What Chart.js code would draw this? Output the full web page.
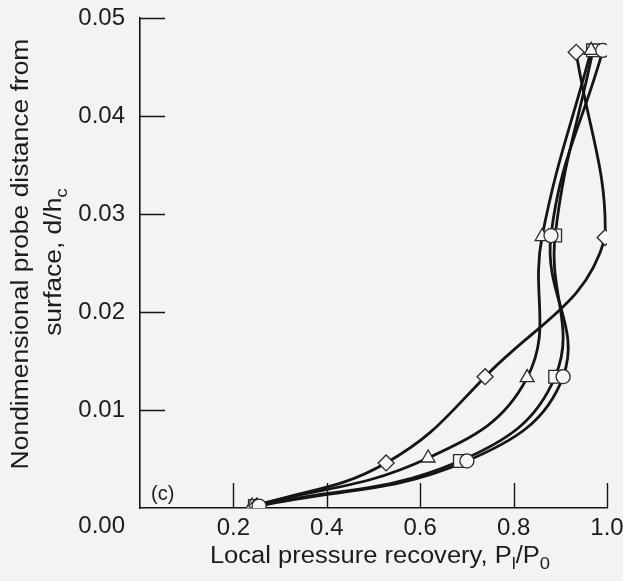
<!DOCTYPE html>
<html>
<head>
<meta charset="utf-8">
<script src="https://cdn.jsdelivr.net/npm/chart.js@4.4.1/dist/chart.umd.min.js"></script>
<style>
  html, body { margin: 0; padding: 0; background: #f3f3f1; }
  #wrap { width: 623px; height: 581px; }
</style>
</head>
<body>
<div id="wrap"><canvas id="chart" width="623" height="581"></canvas></div>
<script>
// Valores (x = P_l/P_0, y = d/h_c)
const diamondX  = [0.250, 0.527, 0.739, 0.996, 0.934];
const diamondY  = [0.0002, 0.0046, 0.0134, 0.0276, 0.0465];
const triangleX = [0.240, 0.617, 0.829, 0.861, 0.966];
const triangleY = [0.0002, 0.0051, 0.0133, 0.0277, 0.0467];
const squareX   = [0.246, 0.685, 0.889, 0.889, 0.970];
const squareY   = [0.0002, 0.0048, 0.0134, 0.0278, 0.0467];
const circleX   = [0.255, 0.700, 0.906, 0.880, 0.991];
const circleY   = [0.0002, 0.0048, 0.0134, 0.0278, 0.0467];

const xTicks = [0.2, 0.4, 0.6, 0.8, 1.0];
const yTicks = [0.01, 0.02, 0.03, 0.04, 0.05];

const INK = '#151515';
const FONT = '"Liberation Sans", Arial, sans-serif';

const toPoints = (xs, ys) => xs.map((x, i) => ({ x: x, y: ys[i] }));

// curva suave (desenhada por baixo)
const curve = data => ({
    data: data,
    order: 2,
    showLine: true,
    tension: 0.42,
    borderColor: INK,
    borderWidth: 2.8,
    pointRadius: 0
});

// marcadores (desenhados por cima de todas as curvas)
const marks = (data, style, radius) => ({
    data: data,
    order: 1,
    showLine: false,
    pointStyle: style,
    pointRadius: radius,
    pointBorderWidth: 1.3,
    pointBorderColor: '#2a2a2a',
    pointBackgroundColor: '#f6f6f4'
});

// texto com subscritos, esticado na horizontal: partes [texto, subscrito?]
function drawParts(ctx, parts, x, y, size, stretch) {
    const sub = size * 0.72;
    let total = 0;
    parts.forEach(p => {
        ctx.font = (p[1] ? sub : size) + 'px ' + FONT;
        total += ctx.measureText(p[0]).width;
    });
    ctx.save();
    ctx.translate(x, y);
    ctx.scale(stretch, 1);
    let cx = -total / 2;
    parts.forEach(p => {
        ctx.font = (p[1] ? sub : size) + 'px ' + FONT;
        ctx.fillText(p[0], cx, p[1] ? size * 0.32 : 0);
        cx += ctx.measureText(p[0]).width;
    });
    ctx.restore();
}

const decorPlugin = {
    id: 'decor',
    afterDraw(chart) {
        const ctx = chart.ctx;
        const xs = chart.scales.x, ys = chart.scales.y;
        const area = chart.chartArea;
        ctx.save();
        ctx.strokeStyle = INK;
        ctx.lineWidth = 1.4;
        // marcas para dentro
        ctx.beginPath();
        yTicks.forEach(v => {
            const py = Math.round(ys.getPixelForValue(v)) + 0.5;
            ctx.moveTo(area.left, py);
            ctx.lineTo(area.left + 25, py);
        });
        xTicks.forEach(v => {
            const px = Math.round(xs.getPixelForValue(v)) + 0.5;
            ctx.moveTo(px, area.bottom);
            ctx.lineTo(px, area.bottom - 25);
        });
        ctx.stroke();

        ctx.fillStyle = '#1c1c1c';
        ctx.textBaseline = 'middle';
        // rótulo 0.00 na linha dos rótulos de x
        ctx.textAlign = 'right';
        ctx.font = '24px ' + FONT;
        ctx.fillText('0.00', area.left - 15, area.bottom + 18);

        ctx.textAlign = 'left';
        ctx.font = '20px ' + FONT;
        ctx.fillText('(c)', area.left + 11, area.bottom - 14);

        // título do eixo x
        drawParts(ctx, [['Local pressure recovery, P', false], ['l', true], ['/P', false], ['0', true]],
            380, 557, 23, 1.11);

        // título do eixo y (duas linhas, rotacionado)
        ctx.save();
        ctx.translate(22, 254);
        ctx.rotate(-Math.PI / 2);
        drawParts(ctx, [['Nondimensional probe distance from', false]], 0, 0, 23, 1.15);
        ctx.restore();
        ctx.save();
        ctx.translate(55, 262);
        ctx.rotate(-Math.PI / 2);
        drawParts(ctx, [['surface, d/h', false], ['c', true]], 0, 0, 23, 1.15);
        ctx.restore();
        ctx.restore();
    }
};

// sem folga automática para rótulos: a área do gráfico fica só com o padding
const noPad = s => { s.paddingTop = 0; s.paddingBottom = 0; s.paddingLeft = 0; s.paddingRight = 0; };

const diamonds  = toPoints(diamondX, diamondY);
const triangles = toPoints(triangleX, triangleY);
const squares   = toPoints(squareX, squareY);
const circles   = toPoints(circleX, circleY);

new Chart(document.getElementById('chart').getContext('2d'), {
    type: 'scatter',
    data: {
        datasets: [
            curve(diamonds), curve(triangles), curve(squares), curve(circles),
            // o primeiro fica por cima
            marks(circles, 'circle', 7),
            marks(diamonds, 'rectRot', 8),
            marks(triangles, 'triangle', 8),
            marks(squares, 'rect', 9)
        ]
    },
    options: {
        responsive: false,
        animation: false,
        layout: { padding: { left: 0, top: 18, right: 16, bottom: 0 } },
        plugins: { legend: { display: false }, tooltip: { enabled: false } },
        scales: {
            x: {
                type: 'linear', min: 0, max: 1,
                afterFit: s => { s.height = 73; noPad(s); },
                grid: { display: false, drawTicks: false },
                border: { display: true, color: INK, width: 1.6 },
                ticks: {
                    stepSize: 0.2, padding: 6, color: '#1c1c1c',
                    font: { family: FONT, size: 24 },
                    callback: v => v === 0 ? '' : v.toFixed(1)
                }
            },
            y: {
                type: 'linear', min: 0, max: 0.05,
                afterFit: s => { s.width = 140; noPad(s); },
                grid: { display: false, drawTicks: false },
                border: { display: true, color: INK, width: 1.6 },
                ticks: {
                    stepSize: 0.01, padding: 15, color: '#1c1c1c',
                    font: { family: FONT, size: 24 },
                    callback: v => v === 0 ? '' : v.toFixed(2)
                }
            }
        }
    },
    plugins: [decorPlugin]
});
</script>
</body>
</html>
